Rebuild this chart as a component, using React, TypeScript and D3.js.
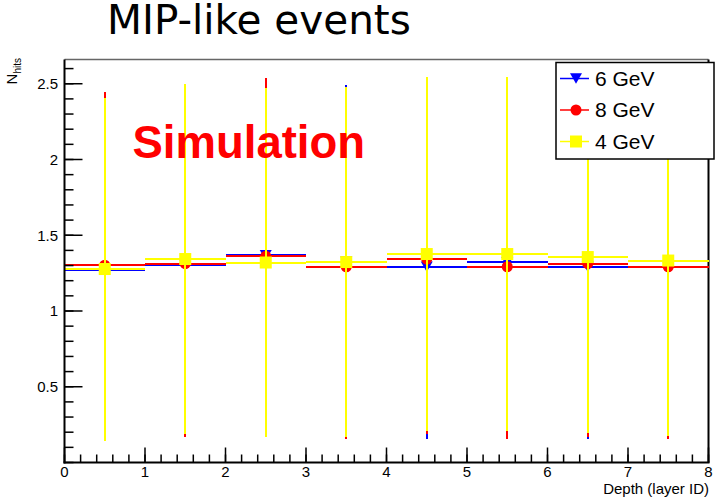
import React from "react";
import * as d3 from "d3";

// ---- data ----
const binEdges = [0, 1, 2, 3, 4, 5, 6, 7, 8];
const xTicks = [0, 1, 2, 3, 4, 5, 6, 7, 8];
const yTicks = [0.5, 1, 1.5, 2, 2.5];
const seriesNames = ["6 GeV", "8 GeV", "4 GeV"];
const gev6 = [1.269, 1.305, 1.368, 1.325, 1.292, 1.322, 1.292, 1.292];
const gev6Err = [1.11, 1.13, 1.14, 1.165, 1.136, 1.15, 1.136, 1.13];
const gev8 = [1.302, 1.312, 1.362, 1.292, 1.342, 1.292, 1.313, 1.292];
const gev8Err = [1.145, 1.145, 1.177, 1.136, 1.157, 1.136, 1.146, 1.136];
const gev4 = [1.277, 1.343, 1.32, 1.323, 1.376, 1.376, 1.356, 1.333];
const gev4Err = [1.132, 1.157, 1.153, 1.157, 1.17, 1.17, 1.16, 1.159];

const W = 717;
const H = 500;
const L = 64.5, R = 708.5, T = 59.5, B = 462.5;
const FONT = "'Liberation Sans', Arial, Helvetica, sans-serif";

const x = d3.scaleLinear().domain([0, 8]).range([L, R]);
const y = d3.scaleLinear().domain([0, 2.66]).range([B, T]);

type Series = { name: string; vals: number[]; errs: number[]; color: string; marker: string };
const series: Series[] = [
  { name: seriesNames[0], vals: gev6, errs: gev6Err, color: "#0000ff", marker: "tri" },
  { name: seriesNames[1], vals: gev8, errs: gev8Err, color: "#ff0000", marker: "circle" },
  { name: seriesNames[2], vals: gev4, errs: gev4Err, color: "#ffff00", marker: "square" },
];

const TRI_SIZE = 62;
const triPath = d3.symbol().type(d3.symbolTriangle).size(TRI_SIZE)() as string;
const triSide = Math.sqrt((TRI_SIZE * 4) / Math.sqrt(3));
const triH = (triSide * Math.sqrt(3)) / 2;

function Marker({ kind, cx, cy, color }: { kind: string; cx: number; cy: number; color: string }) {
  if (kind === "tri")
    return <path d={triPath} transform={`translate(${cx},${cy - triH / 6}) rotate(180)`} fill={color} />;
  if (kind === "circle") return <circle cx={cx} cy={cy} r={5.5} fill={color} />;
  return <rect x={cx - 6} y={cy - 6} width={12} height={12} fill={color} />;
}

export default function App() {
  const xMinor = d3.range(0, 8.0001, 0.2);
  const yMinor = d3.range(0, 2.66, 0.1);
  return (
    <svg width={W} height={H} style={{ position: "absolute", left: 0, top: 0, background: "#fff" }}>
      <rect x={0} y={0} width={W} height={H} fill="#fff" />
      {/* title */}
      <text x={107} y={34} fontFamily="'DejaVu Sans', sans-serif" fontSize={40.5} fill="#000">
        MIP-like events
      </text>

      {/* frame */}
      <line x1={L} x2={R} y1={T} y2={T} stroke="#666" strokeWidth={1.5} />
      <line x1={R} x2={R} y1={T} y2={B} stroke="#000" strokeWidth={2} />

      {/* data */}
      {series.map((s) => (
        <g key={s.name}>
          {s.vals.map((v, i) => {
            const cx = x((binEdges[i] + binEdges[i + 1]) / 2);
            const cy = y(v);
            return (
              <g key={i}>
                <line x1={x(binEdges[i])} x2={x(binEdges[i + 1])} y1={cy} y2={cy} stroke={s.color} strokeWidth={2} shapeRendering="crispEdges" />
                <line x1={cx} x2={cx} y1={y(v + s.errs[i])} y2={y(v - s.errs[i])} stroke={s.color} strokeWidth={2} shapeRendering="crispEdges" />
                <Marker kind={s.marker} cx={cx} cy={cy} color={s.color} />
              </g>
            );
          })}
        </g>
      ))}

      {/* Simulation label */}
      <text x={132.5} y={158} fontFamily={FONT} fontWeight="bold" fontSize={45.5} fill="#ff0000">
        Simulation
      </text>

      {/* x axis */}
      <line x1={L - 1} x2={R + 1} y1={B} y2={B} stroke="#000" strokeWidth={2} />
      {xMinor.map((t, i) => (
        <line key={i} x1={x(t)} x2={x(t)} y1={B} y2={B - 8} stroke="#000" strokeWidth={1.5} />
      ))}
      {xTicks.map((t) => (
        <g key={t}>
          <line x1={x(t)} x2={x(t)} y1={B} y2={B - 15} stroke="#000" strokeWidth={1.5} />
          <text x={x(t)} y={477} textAnchor="middle" fontFamily={FONT} fontSize={15} fill="#000">
            {t}
          </text>
        </g>
      ))}
      <text x={709} y={494} textAnchor="end" fontFamily={FONT} fontSize={15} fill="#000">
        Depth (layer ID)
      </text>

      {/* y axis */}
      <line x1={L} x2={L} y1={T} y2={B + 1} stroke="#000" strokeWidth={2} />
      {yMinor.map((t, i) => (
        <line key={i} x1={L} x2={L + 9} y1={y(t)} y2={y(t)} stroke="#000" strokeWidth={1.5} />
      ))}
      {yTicks.map((t) => (
        <g key={t}>
          <line x1={L} x2={L + 18} y1={y(t)} y2={y(t)} stroke="#000" strokeWidth={1.5} />
          <text x={58} y={y(t) + 5.5} textAnchor="end" fontFamily={FONT} fontSize={15} fill="#000">
            {t}
          </text>
        </g>
      ))}
      <text transform="translate(16.5,58) rotate(-90)" textAnchor="end" fontFamily={FONT} fontSize={15} fill="#000">
        N
        <tspan fontSize={10} dy={4.5}>hits</tspan>
      </text>

      {/* legend */}
      <rect x={556} y={62.5} width={158} height={96.5} fill="#fff" stroke="#000" strokeWidth={1.5} />
      {series.map((s, i) => {
        const ly = 78.5 + i * 31.5;
        return (
          <g key={s.name}>
            <line x1={560} x2={589} y1={ly} y2={ly} stroke={s.color} strokeWidth={1.5} />
            <Marker kind={s.marker} cx={576} cy={ly} color={s.color} />
            <text x={595} y={ly + 7} fontFamily={FONT} fontSize={21} fill="#000">
              {s.name}
            </text>
          </g>
        );
      })}
    </svg>
  );
}
